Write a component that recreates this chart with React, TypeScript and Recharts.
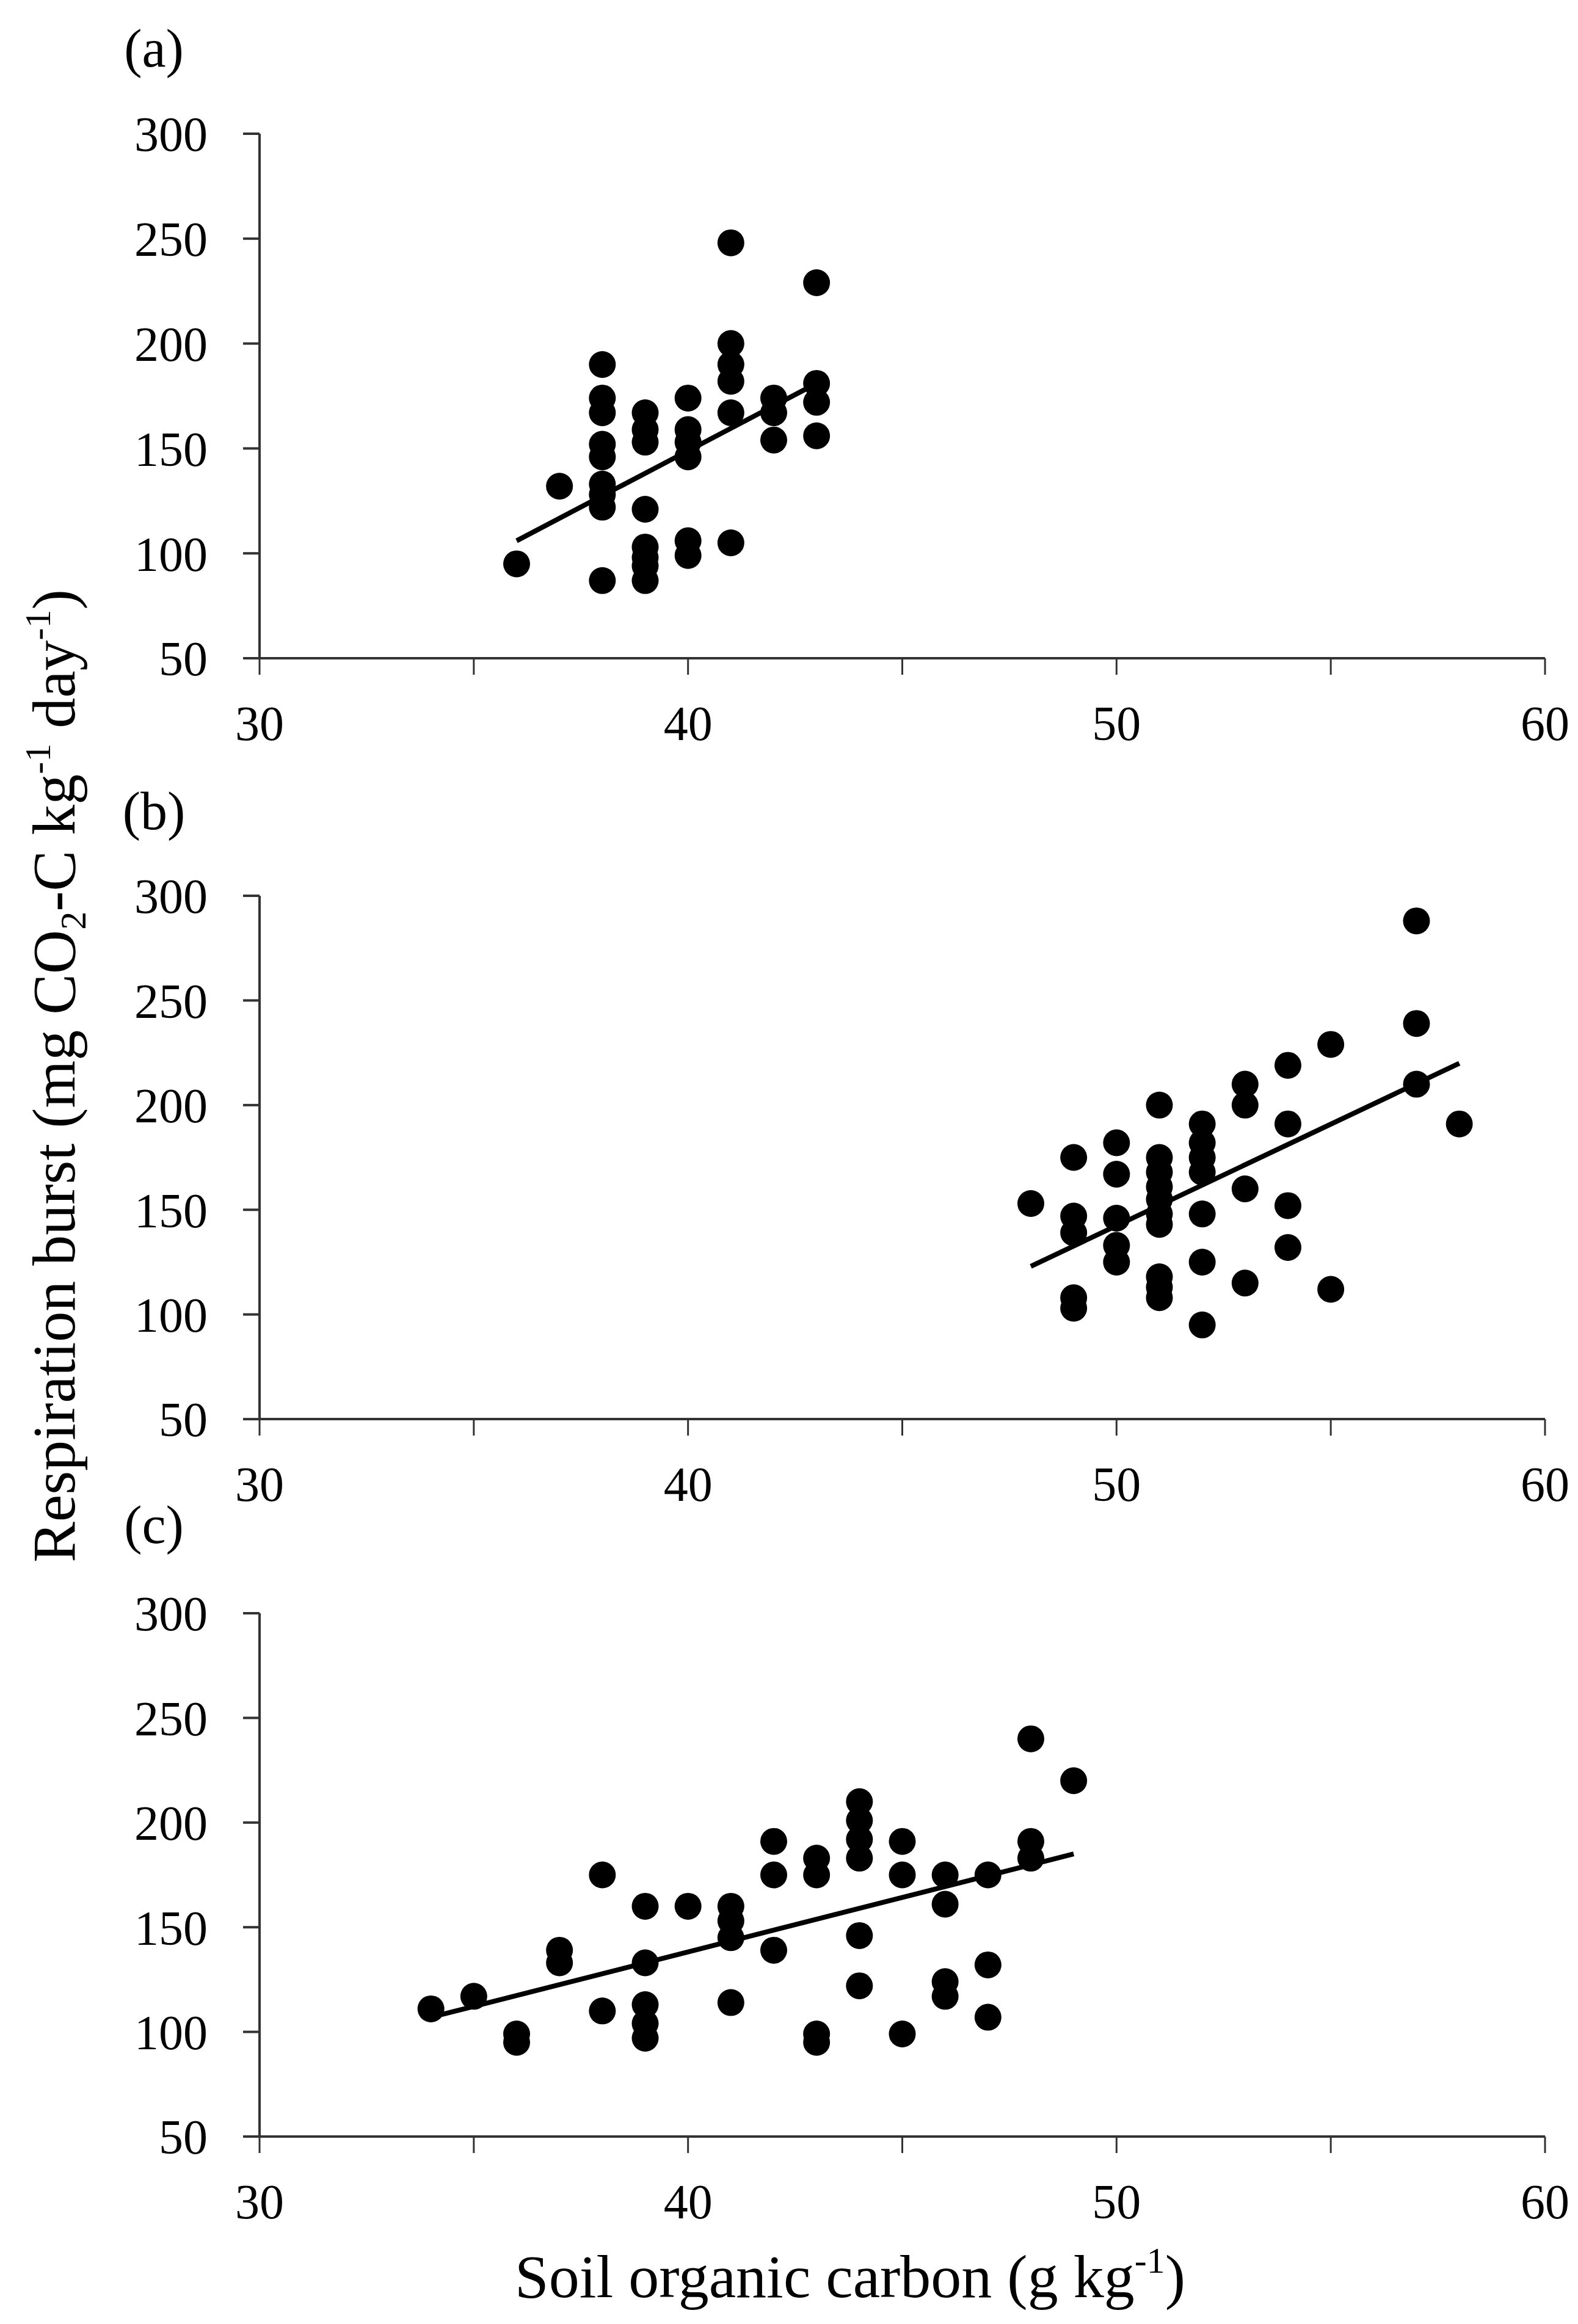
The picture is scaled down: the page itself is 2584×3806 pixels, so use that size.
import React from 'react';
import { ScatterChart, Scatter, XAxis, YAxis } from 'recharts';

// soil organic carbon (x) / respiration burst (y)
const socA = [36, 37, 38, 38, 38, 38, 38, 38, 38, 38, 38, 39, 39, 39, 39, 39, 39, 39, 39, 40, 40, 40, 40, 40, 40, 41, 41, 41, 41, 41, 41, 42, 42, 42, 43, 43, 43, 43];
const respA = [95, 132, 190, 174, 167, 152, 146, 133, 128, 122, 87, 167, 159, 153, 121, 103, 98, 94, 87, 174, 159, 153, 146, 106, 99, 248, 200, 190, 182, 167, 105, 174, 167, 154, 229, 181, 172, 156];

const socB = [48, 49, 49, 49, 49, 49, 50, 50, 50, 50, 50, 51, 51, 51, 51, 51, 51, 51, 51, 51, 51, 52, 52, 52, 52, 52, 52, 52, 53, 53, 53, 53, 54, 54, 54, 54, 55, 55, 57, 57, 57, 58];
const respB = [153, 175, 147, 139, 108, 103, 182, 167, 146, 133, 125, 200, 175, 168, 161, 155, 148, 143, 118, 113, 108, 191, 182, 175, 168, 148, 125, 95, 210, 200, 160, 115, 219, 191, 152, 132, 229, 112, 288, 239, 210, 191];

const socC = [34, 35, 36, 36, 37, 37, 38, 38, 39, 39, 39, 39, 39, 40, 41, 41, 41, 41, 42, 42, 42, 43, 43, 43, 43, 44, 44, 44, 44, 44, 44, 45, 45, 45, 46, 46, 46, 46, 47, 47, 47, 48, 48, 48, 49];
const respC = [111, 117, 99, 95, 139, 133, 175, 110, 160, 133, 113, 104, 97, 160, 160, 153, 145, 114, 191, 175, 139, 183, 175, 99, 95, 210, 201, 192, 183, 146, 122, 191, 175, 99, 175, 161, 124, 117, 175, 132, 107, 240, 191, 183, 220];

// fitted line end points
const trendXA = [36, 43];
const trendYA = [106, 181];
const trendXB = [48, 58];
const trendYB = [123, 220];
const trendXC = [34, 49];
const trendYC = [107, 185];

const xTicks = [30, 35, 40, 45, 50, 55, 60];
const yTicks = [50, 100, 150, 200, 250, 300];
const panelLabels = ['(a)', '(b)', '(c)'];

const zip = (xs: number[], ys: number[]) => xs.map((x, i) => ({ x, y: ys[i] }));

const FONT = '"Liberation Serif", "Times New Roman", serif';
const axisColor = '#333';

const Dot = (props: any) => <circle cx={props.cx} cy={props.cy} r={22} fill="#000" />;

interface PanelProps {
  points: { x: number; y: number }[];
  trend: { x: number; y: number }[];
  plotTop: number;
  plotBottom: number;
}

const Panel: React.FC<PanelProps> = ({ points, trend, plotTop, plotBottom }) => {
  const marginTop = 100;
  const xAxisH = 180;
  const height = plotBottom - plotTop + marginTop + xAxisH;
  const tickStyle = { fill: '#000', fontSize: 80, fontFamily: FONT };
  return (
    <div style={{ position: 'absolute', left: 0, top: plotTop - marginTop }}>
      <ScatterChart width={2584} height={height} margin={{ top: marginTop, right: 54, bottom: 0, left: 0 }}>
        <XAxis
          type="number"
          dataKey="x"
          domain={[30, 60]}
          ticks={xTicks}
          height={xAxisH}
          tickSize={27}
          tickMargin={50}
          tick={tickStyle}
          tickFormatter={(v: number) => (v % 10 === 0 ? String(v) : '')}
          axisLine={{ stroke: axisColor, strokeWidth: 4 }}
          tickLine={{ stroke: axisColor, strokeWidth: 3 }}
          allowDataOverflow
        />
        <YAxis
          type="number"
          dataKey="y"
          domain={[50, 300]}
          ticks={yTicks}
          width={425}
          tickSize={27}
          tickMargin={58}
          tick={tickStyle}
          axisLine={{ stroke: axisColor, strokeWidth: 4 }}
          tickLine={{ stroke: axisColor, strokeWidth: 4 }}
          allowDataOverflow
        />
        <Scatter data={points} shape={Dot} isAnimationActive={false} />
        <Scatter
          data={trend}
          line={{ stroke: '#000', strokeWidth: 8 }}
          shape={() => <g />}
          isAnimationActive={false}
        />
      </ScatterChart>
    </div>
  );
};

const App: React.FC = () => {
  const labelY = [109, 1358, 2527];
  return (
    <div style={{ position: 'relative', width: 2584, height: 3806, background: '#fff' }}>
      <style>{'body{margin:0}'}</style>
      <Panel points={zip(socA, respA)} trend={zip(trendXA, trendYA)} plotTop={219} plotBottom={1078} />
      <Panel points={zip(socB, respB)} trend={zip(trendXB, trendYB)} plotTop={1466.5} plotBottom={2323.6} />
      <Panel points={zip(socC, respC)} trend={zip(trendXC, trendYC)} plotTop={2641.7} plotBottom={3498.7} />
      <svg
        width={2584}
        height={3806}
        style={{ position: 'absolute', left: 0, top: 0, pointerEvents: 'none' }}
        fontFamily={FONT}
        fill="#000"
      >
        {panelLabels.map((t, i) => (
          <text key={t} x={252} y={labelY[i]} fontSize={88} textAnchor="middle">
            {t}
          </text>
        ))}
        <text x={1392} y={3762} fontSize={100} textAnchor="middle">
          Soil organic carbon (g kg
          <tspan fontSize={60} dy={-40}>-1</tspan>
          <tspan dy={40}>)</tspan>
        </text>
        <text
          transform="translate(122,1762) rotate(-90)"
          fontSize={100}
          textAnchor="middle"
        >
          Respiration burst (mg CO
          <tspan fontSize={60} dy={18}>2</tspan>
          <tspan dy={-18}>-C kg</tspan>
          <tspan fontSize={60} dy={-40}>-1</tspan>
          <tspan dy={40}> day</tspan>
          <tspan fontSize={60} dy={-40}>-1</tspan>
          <tspan dy={40}>)</tspan>
        </text>
      </svg>
    </div>
  );
};

export default App;
